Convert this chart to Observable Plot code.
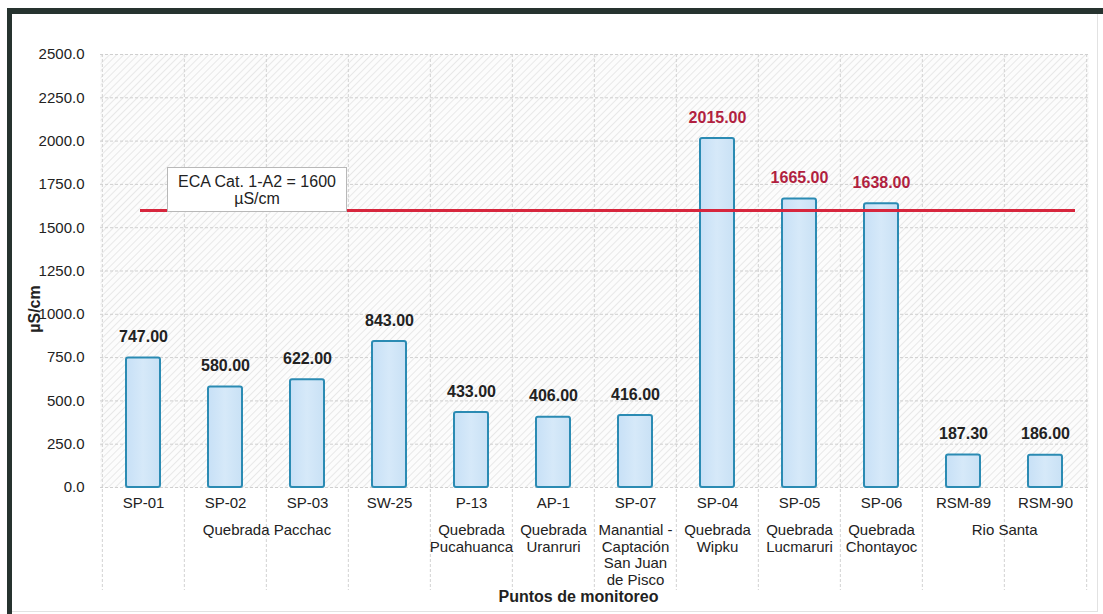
<!DOCTYPE html>
<html>
<head>
<meta charset="utf-8">
<script src="https://cdn.jsdelivr.net/npm/d3@7"></script>
<script src="https://cdn.jsdelivr.net/npm/@observablehq/plot@0.6"></script>
<style>
  html, body { margin: 0; padding: 0; background: #fff; }
  #wrap { position: relative; width: 1103px; height: 614px; overflow: hidden; font-family: "Liberation Sans", Arial, sans-serif; }
  #wrap svg { position: absolute; left: 0; top: 0; }
  .bt { position: absolute; left: 7px; top: 8px; width: 1096px; height: 6px; background: #26332f; }
  .bl { position: absolute; left: 7px; top: 8px; width: 5px; height: 606px; background: #26332f; }
  .br { position: absolute; left: 1097px; top: 14px; width: 1px; height: 598px; background: #e2e2e2; }
  .bb { position: absolute; left: 12px; top: 611px; width: 1086px; height: 1px; background: #e2e2e2; }
  .note { position: absolute; background: #fff; border: 1px solid #b8b8b8; box-sizing: border-box;
          font-size: 16px; line-height: 17px; color: #222; text-align: center; padding-top: 5px; white-space: pre; }
</style>
</head>
<body>
<div id="wrap"></div>
<script>
// ---- data ----
const categories = ["SP-01","SP-02","SP-03","SW-25","P-13","AP-1","SP-07","SP-04","SP-05","SP-06","RSM-89","RSM-90"];
const values = [747.00, 580.00, 622.00, 843.00, 433.00, 406.00, 416.00, 2015.00, 1665.00, 1638.00, 187.30, 186.00];
const groupNames = ["Quebrada Pacchac", "Quebrada\nPucahuanca", "Quebrada\nUranruri", "Manantial -\nCaptación\nSan Juan\nde Pisco", "Quebrada\nWipku", "Quebrada\nLucmaruri", "Quebrada\nChontayoc", "Rio Santa"];
const groupMembers = [["SP-01","SP-02","SP-03","SW-25"], ["P-13"], ["AP-1"], ["SP-07"], ["SP-04"], ["SP-05"], ["SP-06"], ["RSM-89","RSM-90"]];
const yTicks = [0, 250, 500, 750, 1000, 1250, 1500, 1750, 2000, 2250, 2500];
const limitValue = 1600;
const limitLabel = "ECA Cat. 1-A2 = 1600\nµS/cm";
const yLabel = "µS/cm";
const xLabel = "Puntos de monitoreo";

// ---- layout ----
const W = 1103, H = 614, ML = 100, MR = 15, MT = 54, MB = 127;
const step = (W - ML - MR) / categories.length;

const rows = categories.map((c, i) => ({cat: c, v: values[i], over: values[i] > limitValue}));
const groups = groupNames.map((g, i) => ({name: g, first: groupMembers[i][0], n: groupMembers[i].length}));
const edges = categories.map(c => ({cat: c, dx: -step / 2})).concat([{cat: categories[categories.length - 1], dx: step / 2}]);

const chart = Plot.plot({
  width: W, height: H,
  marginLeft: ML, marginRight: MR, marginTop: MT, marginBottom: MB,
  style: {fontFamily: "'Liberation Sans', Arial, sans-serif", fontSize: "15px", color: "#222", background: "transparent"},
  x: {type: "band", domain: categories, padding: 0, label: null},
  y: {domain: [0, 2500], label: null},
  marks: [
    Plot.frame({fill: "url(#hatch)", stroke: null}),
    Plot.ruleY(yTicks, {stroke: "#cfcfcf", strokeDasharray: "3,2", strokeWidth: 1}),
    ...edges.map(e => Plot.ruleX([e.cat], {x: d => d, dx: e.dx, stroke: "#d2d2d2", strokeDasharray: "3,2", strokeWidth: 1, insetBottom: -103})),
    Plot.barY(rows, {x: "cat", y: "v", fill: "url(#barfill)", stroke: "#2b8bb3", strokeWidth: 2, insetLeft: 24, insetRight: 24, rx: 2}),
    Plot.ruleY([limitValue], {stroke: "#d7263d", strokeWidth: 3, insetLeft: 40, insetRight: 13}),
    Plot.text(rows, {x: "cat", y: "v", text: d => d.v.toFixed(2), dy: -21, fontWeight: "bold", fontSize: 16,
      fill: d => d.over ? "#b11f3f" : "#222"}),
    Plot.axisX({tickSize: 0, tickPadding: 10, fontSize: 15, label: null}),
    Plot.axisY({ticks: yTicks, tickSize: 0, tickPadding: 16, fontSize: 15, tickFormat: d => d.toFixed(1), label: null}),
    ...groups.map(g => Plot.text([g], {x: "first", y: () => 0, text: "name", dx: (g.n - 1) * step / 2, dy: 36,
      lineAnchor: "top", lineHeight: 1.1, fontSize: 15, fill: "#222"})),
    Plot.text([xLabel], {frameAnchor: "bottom", textAnchor: "middle", dx: -16, dy: 114, fontWeight: "bold", fontSize: 16, fill: "#222"}),
    Plot.text([yLabel], {frameAnchor: "left", textAnchor: "middle", rotate: -90, dx: -66, dy: 38, fontWeight: "bold", fontSize: 16, fill: "#222"})
  ]
});

chart.insertAdjacentHTML("afterbegin",
  '<defs>' +
  '<pattern id="hatch" patternUnits="userSpaceOnUse" width="5" height="5" patternTransform="rotate(45)">' +
  '<rect width="5" height="5" fill="#fcfcfc"/><line x1="0" y1="0" x2="0" y2="5" stroke="#e4e4e4" stroke-width="1.6"/></pattern>' +
  '<linearGradient id="barfill" x1="0" y1="0" x2="1" y2="0">' +
  '<stop offset="0" stop-color="#c7e0f6"/><stop offset="0.5" stop-color="#d6e9f9"/><stop offset="1" stop-color="#c9e1f5"/></linearGradient>' +
  '</defs>');

const wrap = document.getElementById("wrap");
wrap.appendChild(chart);
["bt", "bl", "br", "bb"].forEach(c => { const d = document.createElement("div"); d.className = c; wrap.appendChild(d); });

const xs = chart.scale("x"), ys = chart.scale("y");
const note = document.createElement("div");
note.className = "note";
note.textContent = limitLabel;
const yLim = ys.apply(limitValue);
note.style.left = (xs.apply(categories[0]) + 65) + "px";
note.style.top = (yLim - 43) + "px";
note.style.width = "180px";
note.style.height = "45px";
wrap.appendChild(note);
</script>
</body>
</html>
